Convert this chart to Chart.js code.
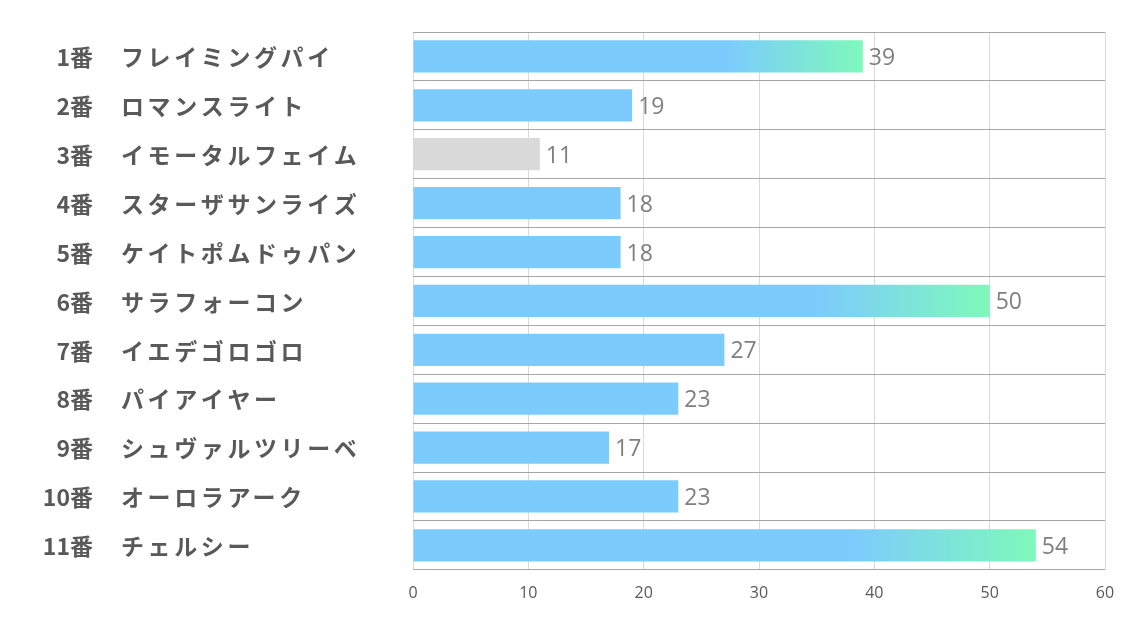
<!DOCTYPE html>
<html><head><meta charset="utf-8">
<script src="https://cdn.jsdelivr.net/npm/chart.js@4"></script>
<style>html,body{margin:0;padding:0;background:#fff;}#wrap{width:1134px;height:623px;}</style>
</head><body><div id="wrap"><canvas id="c" width="1134" height="623"></canvas></div>
<script>
const numbers = ['1番','2番','3番','4番','5番','6番','7番','8番','9番','10番','11番'];
const horses = ['フレイミングパイ','ロマンスライト','イモータルフェイム','スターザサンライズ','ケイトポムドゥパン','サラフォーコン','イエデゴロゴロ','パイアイヤー','シュヴァルツリーベ','オーロラアーク','チェルシー'];
const values = [39,19,11,18,18,50,27,23,17,23,54];
const greyBars = [2];
const gradientBars = [0,5,10];
const xTicks = [0,10,20,30,40,50,60];

const BLUE = '#7ccbfd', GREEN = '#7ef9bb', GREY = '#d9d9d9';

function barColor(ctx){
  const i = ctx.dataIndex, chart = ctx.chart;
  if (greyBars.includes(i)) return GREY;
  if (!gradientBars.includes(i)) return BLUE;
  const xs = chart.scales && chart.scales.x;
  if (!xs) return BLUE;
  const x0 = xs.getPixelForValue(0), x1 = xs.getPixelForValue(values[i]);
  if (!isFinite(x0) || !isFinite(x1) || x1 <= x0) return BLUE;
  const g = chart.ctx.createLinearGradient(x0, 0, x1, 0);
  g.addColorStop(0, BLUE);
  g.addColorStop(0.7, BLUE);
  g.addColorStop(1, GREEN);
  return g;
}

const labelPlugin = {
  id: 'labels',
  afterDatasetsDraw(chart){
    const c = chart.ctx, ys = chart.scales.y, xs = chart.scales.x;
    c.save();
    c.textBaseline = 'middle';
    numbers.forEach((n, i) => {
      const y = ys.getPixelForValue(i);
      c.fillStyle = '#595959';
      c.font = 'bold 23px "Noto Sans CJK JP", "Open Sans", sans-serif';
      c.letterSpacing = '0px';
      c.textAlign = 'right';
      c.fillText(n, 93, y + 1);
      c.textAlign = 'left';
      c.letterSpacing = '3.6px';
      c.fillText(horses[i], 121, y + 1);
      c.letterSpacing = '0px';
      c.font = '23px "Open Sans", sans-serif';
      c.fillStyle = '#7f7f7f';
      c.fillText(String(values[i]), xs.getPixelForValue(values[i]) + 6, y + 2);
    });
    c.restore();
  }
};

new Chart(document.getElementById('c'), {
  type: 'bar',
  data: {
    labels: horses,
    datasets: [{
      data: values,
      backgroundColor: barColor,
      borderWidth: 0,
      categoryPercentage: 1,
      barPercentage: 0.66
    }]
  },
  options: {
    indexAxis: 'y',
    responsive: false,
    animation: false,
    devicePixelRatio: 1,
    layout: { padding: { left: 413, right: 29, top: 32, bottom: 6 } },
    plugins: { legend: { display: false }, tooltip: { enabled: false } },
    scales: {
      x: {
        min: 0, max: 60,
        afterBuildTicks(axis){ axis.ticks = xTicks.map(v => ({ value: v })); },
        grid: { color: '#d9d9d9', lineWidth: 1, drawTicks: false },
        border: { display: false },
        ticks: { color: '#595959', font: { family: '"Liberation Sans Narrow", "Open Sans", sans-serif', size: 16 }, padding: 14 }
      },
      y: {
        grid: { color: '#a6a6a6', lineWidth: 1, offset: true, drawTicks: false },
        border: { display: false },
        ticks: { display: false }
      }
    }
  },
  plugins: [labelPlugin]
});
</script></body></html>
